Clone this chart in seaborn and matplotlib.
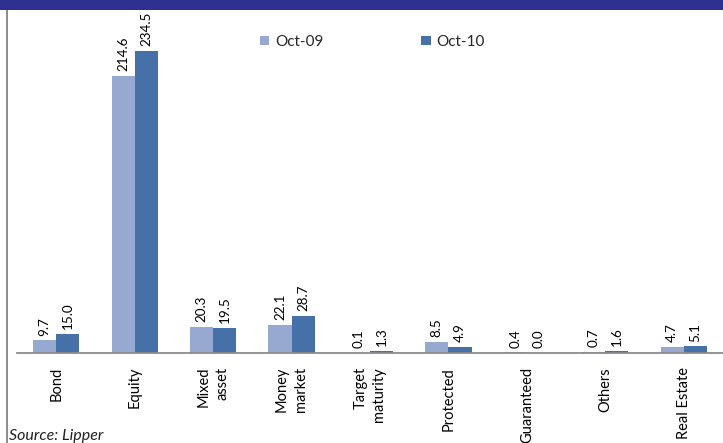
import matplotlib
matplotlib.use("Agg")
import matplotlib.pyplot as plt
from matplotlib.patches import Rectangle
from matplotlib.lines import Line2D
import seaborn as sns
import pandas as pd
import numpy as np

categories = ["Bond", "Equity", "Mixed\nasset", "Money\nmarket", "Target\nmaturity",
              "Protected", "Guaranteed", "Others", "Real Estate"]
oct_09 = [9.7, 214.6, 20.3, 22.1, 0.1, 8.5, 0.4, 0.7, 4.7]
oct_10 = [15.0, 234.5, 19.5, 28.7, 1.3, 4.9, 0.0, 1.6, 5.1]
series_names = ["Oct-09", "Oct-10"]

light = "#95A9D1"
dark = "#4571A8"
navy = "#2E3192"

df = pd.DataFrame({
    "category": categories * 2,
    "value": oct_09 + oct_10,
    "series": [series_names[0]] * len(categories) + [series_names[1]] * len(categories),
})

sns.set_style("white")
plt.rcParams["font.family"] = ["Lato", "DejaVu Sans"]

W, H = 723, 443
fig = plt.figure(figsize=(W / 100, H / 100), dpi=100)
ax = fig.add_axes([17 / W, 1 - 353 / H, 1 - 17 / W, (353 - 10) / H])

sns.barplot(data=df, x="category", y="value", hue="series", order=categories,
            hue_order=series_names, palette=[light, dark], width=0.59,
            saturation=1, ax=ax, legend=False, edgecolor="none")

ax.set_xlim(-0.5, len(categories) - 0.5)
ax.set_ylim(0, 266)
ax.set_xlabel("")
ax.set_ylabel("")
ax.set_yticks([])
ax.set_xticks([])
ax.set_xticks(np.arange(-0.5, len(categories) + 0.5, 1), minor=True)
ax.tick_params(axis="x", which="minor", length=4, width=1.2, color="#8C8C8C", direction="out")
for s in ["top", "right", "left"]:
    ax.spines[s].set_visible(False)
ax.spines["bottom"].set_color("#8C8C8C")
ax.spines["bottom"].set_linewidth(1.3)

# rotated category names under the axis
for i, name in enumerate(categories):
    ax.annotate(name, xy=(i, 0), xycoords="data", xytext=(0, -10), textcoords="offset points",
                rotation=90, ha="center", va="top", multialignment="right",
                fontsize=10.5, color="black", linespacing=1.45)

# value labels above each bar
for container, vals in zip(ax.containers, [oct_09, oct_10]):
    for bar, v in zip(container, vals):
        ax.annotate(f"{v:.1f}", xy=(bar.get_x() + bar.get_width() / 2, bar.get_height()),
                    xytext=(0, 3.5), textcoords="offset points", rotation=90,
                    ha="center", va="bottom", fontsize=9.7, color="black")

handles = [Rectangle((0, 0), 1, 1, facecolor=light, edgecolor="none"),
           Rectangle((0, 0), 1, 1, facecolor=dark, edgecolor="none")]
ax.legend(handles, series_names, ncol=2, frameon=False, loc="upper left",
          bbox_to_anchor=((260 - 17) / (W - 17), 1 - (35 - 10) / (353 - 10)),
          handlelength=0.6, handleheight=0.6, handletextpad=0.4,
          columnspacing=6.4, fontsize=11, borderaxespad=0, borderpad=0)

# header band and left frame line
fig.patches.append(Rectangle((0, 1 - 9.5 / H), 1, 9.5 / H, transform=fig.transFigure,
                             facecolor=navy, edgecolor="none", zorder=5))
fig.lines.append(Line2D([7 / W, 7 / W], [0, 1 - 8 / H], transform=fig.transFigure,
                        color="#8C8C8C", linewidth=1.4))

fig.text(9 / W, 1 - 429 / H, "Source: Lipper", fontsize=11.5, style="italic",
         ha="left", va="top", color="#222222")

fig.savefig("out.png", dpi=100)
